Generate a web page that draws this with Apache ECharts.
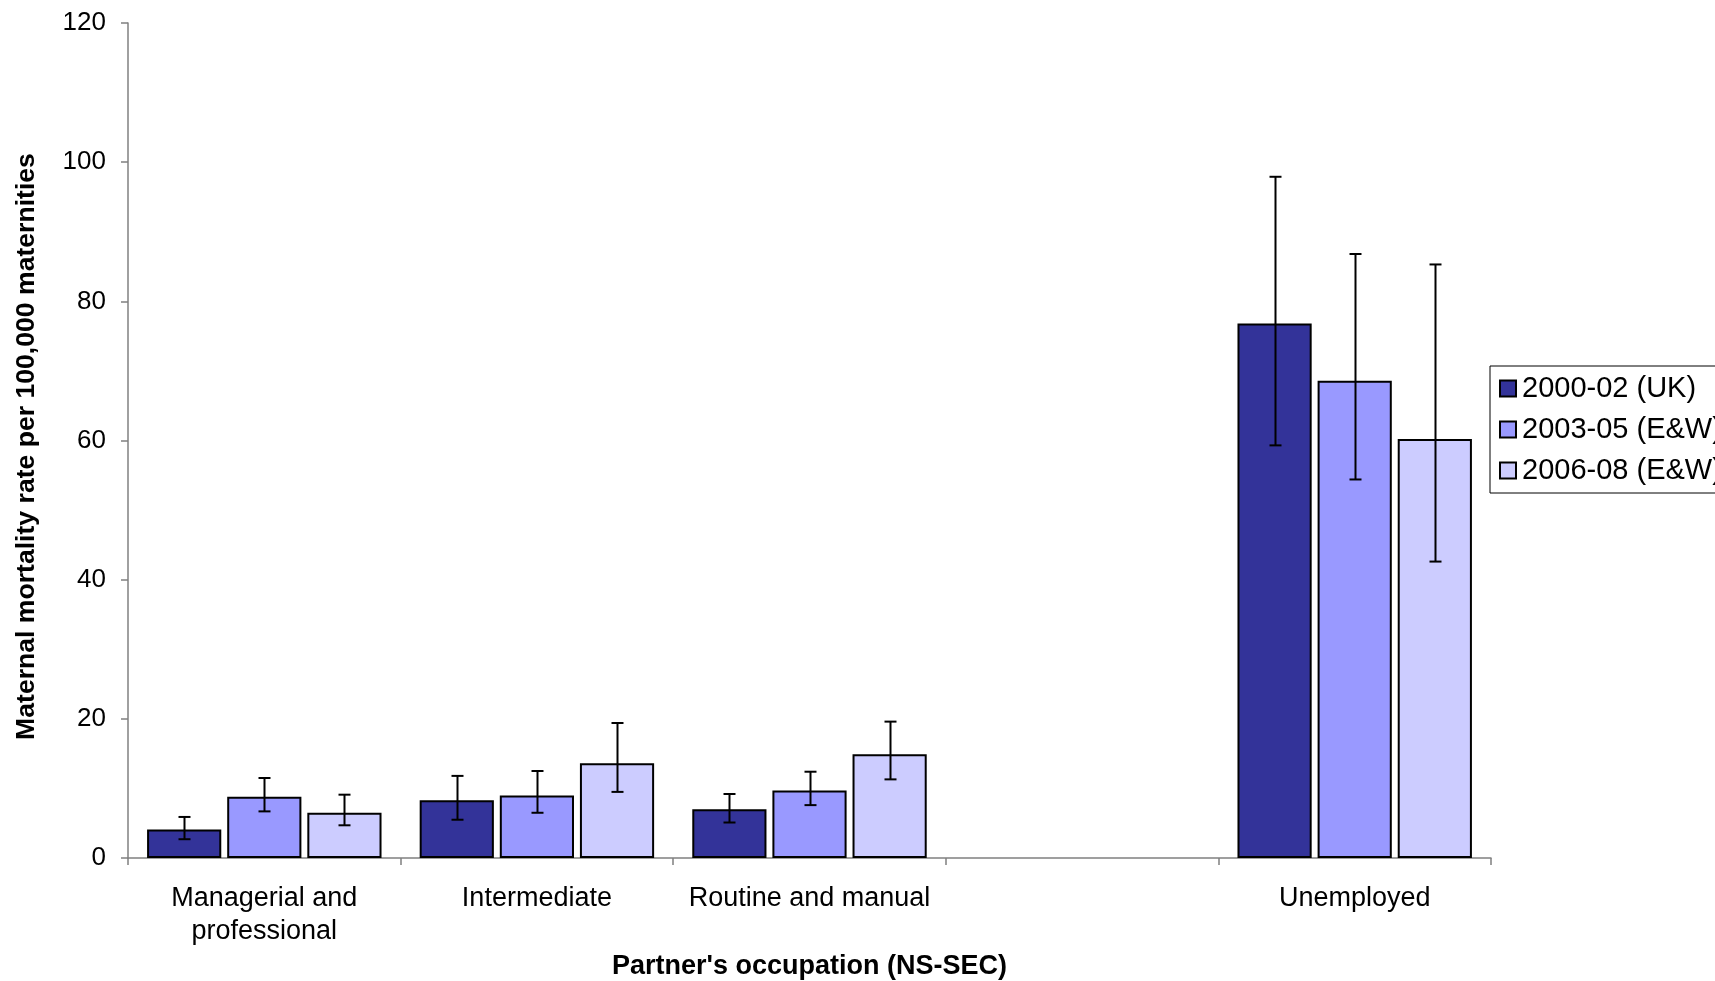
<!DOCTYPE html>
<html>
<head>
<meta charset="utf-8">
<script src="https://cdn.jsdelivr.net/npm/echarts@6/dist/echarts.min.js"></script>
<style>
html,body{margin:0;padding:0;background:#fff;}
#chart{width:1715px;height:981px;}
</style>
</head>
<body>
<div id="chart"></div>
<script>
// ---- data ----
var categories = ['Managerial and\nprofessional', 'Intermediate', 'Routine and manual', '', 'Unemployed'];
var seriesNames = ['2000-02 (UK)', '2003-05 (E&W)', '2006-08 (E&W)'];
var rate2000 = [4.1, 8.3, 7.0, null, 76.8];
var rate2003 = [8.8, 9.0, 9.7, null, 68.6];
var rate2006 = [6.5, 13.6, 14.9, null, 60.2];
var low2000  = [2.7, 5.5, 5.1, null, 59.3];
var high2000 = [5.9, 11.8, 9.2, null, 97.9];
var low2003  = [6.7, 6.5, 7.6, null, 54.4];
var high2003 = [11.5, 12.5, 12.4, null, 86.8];
var low2006  = [4.7, 9.5, 11.3, null, 42.6];
var high2006 = [9.1, 19.4, 19.6, null, 85.3];
var yTicks = [0, 20, 40, 60, 80, 100, 120];

// ---- styling ----
var colors = ['#333399', '#9999FF', '#CCCCFF'];
var FONT = '"Liberation Sans", Arial, sans-serif';
var CAT_GAP = 0.14, BAR_GAP = 0.08, NSER = 3;

var values = [rate2000, rate2003, rate2006];
var lows = [low2000, low2003, low2006];
var highs = [high2000, high2003, high2006];

function errorRenderer(sIdx) {
  return function (params, api) {
    var lo = api.value(1), hi = api.value(2);
    if (lo == null || hi == null || isNaN(lo) || isNaN(hi)) return null;
    var catW = api.size([1, 0])[0];
    var usable = catW * (1 - CAT_GAP);
    var bw = usable / (NSER + (NSER - 1) * BAR_GAP);
    var step = bw * (1 + BAR_GAP);
    var off = (sIdx - (NSER - 1) / 2) * step;
    var pLo = api.coord([api.value(0), lo]);
    var pHi = api.coord([api.value(0), hi]);
    var x = Math.round(pLo[0] + off) + 0.5;
    var cap = 6;
    var st = {stroke: '#000', lineWidth: 2};
    return {
      type: 'group',
      children: [
        {type: 'line', shape: {x1: x, y1: pLo[1], x2: x, y2: pHi[1]}, style: st},
        {type: 'line', shape: {x1: x - cap, y1: pHi[1], x2: x + cap, y2: pHi[1]}, style: st},
        {type: 'line', shape: {x1: x - cap, y1: pLo[1], x2: x + cap, y2: pLo[1]}, style: st}
      ]
    };
  };
}

var series = [];
for (var i = 0; i < NSER; i++) {
  series.push({
    name: seriesNames[i],
    type: 'bar',
    data: values[i],
    barCategoryGap: (CAT_GAP * 100) + '%',
    barGap: (BAR_GAP * 100) + '%',
    itemStyle: {color: colors[i], borderColor: '#000', borderWidth: 2},
    emphasis: {disabled: true},
    animation: false
  });
}
for (var j = 0; j < NSER; j++) {
  var d = [];
  for (var k = 0; k < categories.length; k++) {
    d.push([k, lows[j][k], highs[j][k]]);
  }
  series.push({
    type: 'custom',
    name: seriesNames[j] + ' CI',
    renderItem: errorRenderer(j),
    data: d,
    z: 10,
    silent: true,
    animation: false
  });
}

var chart = echarts.init(document.getElementById('chart'), null, {renderer: 'canvas'});
chart.setOption({
  animation: false,
  backgroundColor: '#fff',
  grid: {left: 128, right: 224, top: 23, bottom: 123, containLabel: false, outerBoundsMode: 'none'},
  legend: {
    data: seriesNames,
    orient: 'vertical',
    left: 1490,
    top: 366,
    padding: [8, 8, 8, 9],
    itemWidth: 16,
    itemHeight: 16,
    itemGap: 12,
    borderColor: '#000',
    borderWidth: 1,
    backgroundColor: '#fff',
    icon: 'rect',
    itemStyle: {borderColor: '#000', borderWidth: 2},
    textStyle: {fontFamily: FONT, fontSize: 29, color: '#000', padding: [0, 0, 0, 1]}
  },
  xAxis: {
    type: 'category',
    data: categories,
    name: "Partner's occupation (NS-SEC)",
    nameLocation: 'middle',
    nameGap: 93,
    nameTextStyle: {fontFamily: FONT, fontSize: 27, fontWeight: 'bold', color: '#000'},
    axisLine: {lineStyle: {color: '#808080', width: 1.5}},
    axisTick: {show: true, length: 7, lineStyle: {color: '#808080', width: 1.5}},
    axisLabel: {fontFamily: FONT, fontSize: 27, color: '#000', margin: 24, lineHeight: 33, interval: 0}
  },
  yAxis: {
    type: 'value',
    min: yTicks[0],
    max: yTicks[yTicks.length - 1],
    interval: 20,
    name: 'Maternal mortality rate per 100,000 maternities',
    nameLocation: 'middle',
    nameGap: 88,
    nameTextStyle: {fontFamily: FONT, fontSize: 26.6, fontWeight: 'bold', color: '#000', padding: [0, 12, 0, 0]},
    splitLine: {show: false},
    axisLine: {show: true, lineStyle: {color: '#808080', width: 1.5}},
    axisTick: {show: true, length: 7, inside: false, lineStyle: {color: '#808080', width: 1.5}},
    axisLabel: {fontFamily: FONT, fontSize: 26, color: '#000', margin: 22}
  },
  series: series
});
</script>
</body>
</html>
